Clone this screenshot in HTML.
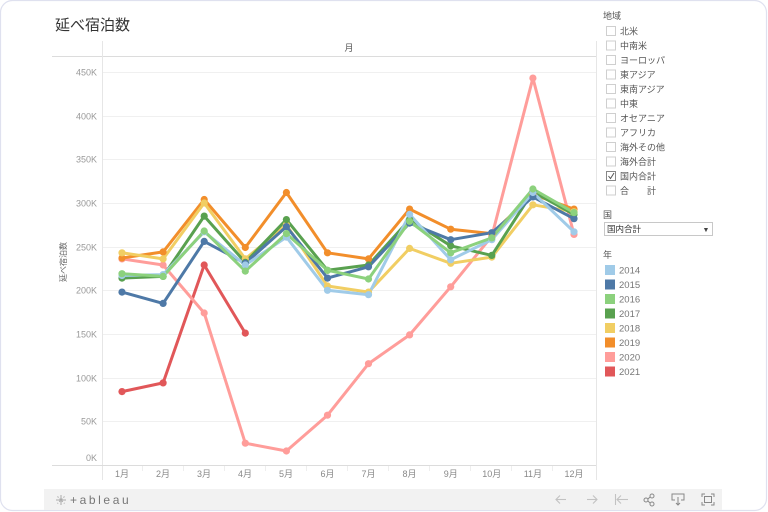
<!DOCTYPE html>
<html><head><meta charset="utf-8"><style>
html,body{margin:0;padding:0;background:#fff;width:768px;height:512px;overflow:hidden}
svg{display:block}
text{font-family:"Liberation Sans","Noto Sans CJK JP",sans-serif}
</style></head><body>
<svg width="768" height="512" viewBox="0 0 768 512" xmlns="http://www.w3.org/2000/svg">
<rect x="0.5" y="0.5" width="766" height="510" rx="12" ry="12" fill="#fff" stroke="#dfe1ef" stroke-width="1.2"/>
<text x="55" y="30" font-size="15" fill="#333">延べ宿泊数</text>
<!-- frame -->
<line x1="52" y1="56.5" x2="596" y2="56.5" stroke="#dcdcdc" stroke-width="1"/>
<line x1="102.5" y1="41" x2="102.5" y2="480" stroke="#e6e6e6" stroke-width="1"/>
<line x1="596.5" y1="41" x2="596.5" y2="480" stroke="#e6e6e6" stroke-width="1"/>
<text x="349" y="51" font-size="9" fill="#555" text-anchor="middle">月</text>
<!-- gridlines -->
<g stroke="#f0f0f0" stroke-width="1">
<line x1="103" y1="72.5" x2="596" y2="72.5"/>
<line x1="103" y1="116.5" x2="596" y2="116.5"/>
<line x1="103" y1="159.5" x2="596" y2="159.5"/>
<line x1="103" y1="203.5" x2="596" y2="203.5"/>
<line x1="103" y1="247.5" x2="596" y2="247.5"/>
<line x1="103" y1="290.5" x2="596" y2="290.5"/>
<line x1="103" y1="334.5" x2="596" y2="334.5"/>
<line x1="103" y1="378.5" x2="596" y2="378.5"/>
<line x1="103" y1="421.5" x2="596" y2="421.5"/>
</g>
<line x1="52" y1="465.5" x2="596" y2="465.5" stroke="#dcdcdc" stroke-width="1"/>
<g font-size="9" fill="#999" text-anchor="end">
<text x="97" y="75.5">450K</text>
<text x="97" y="119.5">400K</text>
<text x="97" y="162.5">350K</text>
<text x="97" y="206.5">300K</text>
<text x="97" y="250.5">250K</text>
<text x="97" y="293.5">200K</text>
<text x="97" y="337.5">150K</text>
<text x="97" y="381.5">100K</text>
<text x="97" y="424.5">50K</text>
<text x="97" y="461">0K</text>
</g>
<text x="0" y="0" font-size="8" fill="#666" text-anchor="middle" transform="translate(66,262) rotate(-90)">延べ宿泊数</text>
<!-- month ticks -->
<g stroke="#eeeeee" stroke-width="1">
<line x1="142.5" y1="466" x2="142.5" y2="471"/><line x1="183.5" y1="466" x2="183.5" y2="471"/>
<line x1="224.5" y1="466" x2="224.5" y2="471"/><line x1="265.5" y1="466" x2="265.5" y2="471"/>
<line x1="306.5" y1="466" x2="306.5" y2="471"/><line x1="347.5" y1="466" x2="347.5" y2="471"/>
<line x1="388.5" y1="466" x2="388.5" y2="471"/><line x1="429.5" y1="466" x2="429.5" y2="471"/>
<line x1="470.5" y1="466" x2="470.5" y2="471"/><line x1="511.5" y1="466" x2="511.5" y2="471"/>
<line x1="552.5" y1="466" x2="552.5" y2="471"/>
</g>
<g font-size="9" fill="#888" text-anchor="middle">
<text x="122" y="477">1月</text><text x="163" y="477">2月</text><text x="204" y="477">3月</text>
<text x="245" y="477">4月</text><text x="286" y="477">5月</text><text x="327.5" y="477">6月</text>
<text x="368.5" y="477">7月</text><text x="409.5" y="477">8月</text><text x="450.7" y="477">9月</text>
<text x="491.8" y="477">10月</text><text x="532.9" y="477">11月</text><text x="574" y="477">12月</text>
</g>
<!-- series -->
<g fill="none" stroke-width="3" stroke-linejoin="round" stroke-linecap="round">
<polyline stroke="#E15759" points="122,391.6 163.1,382.9 204.2,265 245.3,333.1"/>
<polyline stroke="#FF9D9A" points="122,258.9 163.1,265 204.2,313 245.3,443.2 286.4,451 327.5,415.2 368.5,363.7 409.6,334.9 450.7,286.8 491.8,236.2 532.9,78.1 574,234.4"/>
<polyline stroke="#F28E2B" points="122,258 163.1,251.9 204.2,199.5 245.3,247.5 286.4,192.5 327.5,252.8 368.5,258.9 409.6,209.1 450.7,229.2 491.8,233.6 532.9,194.3 574,209.1"/>
<polyline stroke="#F1CE63" points="122,252.8 163.1,258.9 204.2,203 245.3,258.9 286.4,224.8 327.5,286 368.5,292.1 409.6,248.4 450.7,263.3 491.8,257.1 532.9,204.8 574,211.7"/>
<polyline stroke="#59A14F" points="122,278.1 163.1,276.4 204.2,216.1 245.3,262.4 286.4,219.6 327.5,270.3 368.5,265 409.6,219.6 450.7,245.8 491.8,255.4 532.9,191.7 574,214.4"/>
<polyline stroke="#4E79A7" points="122,292.1 163.1,303.4 204.2,241.4 245.3,263.3 286.4,226.6 327.5,278.1 368.5,266.8 409.6,223.1 450.7,239.7 491.8,232.7 532.9,196.9 574,218.7"/>
<polyline stroke="#A0CBE8" points="122,275.5 163.1,274.6 204.2,231.8 245.3,265 286.4,237.1 327.5,290.3 368.5,294.7 409.6,214.4 450.7,259.8 491.8,239.7 532.9,192.5 574,231.8"/>
<polyline stroke="#8CD17D" points="122,273.7 163.1,276.4 204.2,231 245.3,271.1 286.4,233.6 327.5,270.3 368.5,279 409.6,221.3 450.7,252.8 491.8,237.9 532.9,189 574,212.6"/>
</g>
<g>
<g fill="#E15759"><circle cx="122" cy="391.6" r="3.6"/><circle cx="163.1" cy="382.9" r="3.6"/><circle cx="204.2" cy="265" r="3.6"/><circle cx="245.3" cy="333.1" r="3.6"/></g>
<g fill="#FF9D9A"><circle cx="122" cy="258.9" r="3.6"/><circle cx="163.1" cy="265" r="3.6"/><circle cx="204.2" cy="313" r="3.6"/><circle cx="245.3" cy="443.2" r="3.6"/><circle cx="286.4" cy="451" r="3.6"/><circle cx="327.5" cy="415.2" r="3.6"/><circle cx="368.5" cy="363.7" r="3.6"/><circle cx="409.6" cy="334.9" r="3.6"/><circle cx="450.7" cy="286.8" r="3.6"/><circle cx="491.8" cy="236.2" r="3.6"/><circle cx="532.9" cy="78.1" r="3.6"/><circle cx="574" cy="234.4" r="3.6"/></g>
<g fill="#F28E2B"><circle cx="122" cy="258" r="3.6"/><circle cx="163.1" cy="251.9" r="3.6"/><circle cx="204.2" cy="199.5" r="3.6"/><circle cx="245.3" cy="247.5" r="3.6"/><circle cx="286.4" cy="192.5" r="3.6"/><circle cx="327.5" cy="252.8" r="3.6"/><circle cx="368.5" cy="258.9" r="3.6"/><circle cx="409.6" cy="209.1" r="3.6"/><circle cx="450.7" cy="229.2" r="3.6"/><circle cx="491.8" cy="233.6" r="3.6"/><circle cx="532.9" cy="194.3" r="3.6"/><circle cx="574" cy="209.1" r="3.6"/></g>
<g fill="#F1CE63"><circle cx="122" cy="252.8" r="3.6"/><circle cx="163.1" cy="258.9" r="3.6"/><circle cx="204.2" cy="203" r="3.6"/><circle cx="245.3" cy="258.9" r="3.6"/><circle cx="286.4" cy="224.8" r="3.6"/><circle cx="327.5" cy="286" r="3.6"/><circle cx="368.5" cy="292.1" r="3.6"/><circle cx="409.6" cy="248.4" r="3.6"/><circle cx="450.7" cy="263.3" r="3.6"/><circle cx="491.8" cy="257.1" r="3.6"/><circle cx="532.9" cy="204.8" r="3.6"/><circle cx="574" cy="211.7" r="3.6"/></g>
<g fill="#59A14F"><circle cx="122" cy="278.1" r="3.6"/><circle cx="163.1" cy="276.4" r="3.6"/><circle cx="204.2" cy="216.1" r="3.6"/><circle cx="245.3" cy="262.4" r="3.6"/><circle cx="286.4" cy="219.6" r="3.6"/><circle cx="327.5" cy="270.3" r="3.6"/><circle cx="368.5" cy="265" r="3.6"/><circle cx="409.6" cy="219.6" r="3.6"/><circle cx="450.7" cy="245.8" r="3.6"/><circle cx="491.8" cy="255.4" r="3.6"/><circle cx="532.9" cy="191.7" r="3.6"/><circle cx="574" cy="214.4" r="3.6"/></g>
<g fill="#4E79A7"><circle cx="122" cy="292.1" r="3.6"/><circle cx="163.1" cy="303.4" r="3.6"/><circle cx="204.2" cy="241.4" r="3.6"/><circle cx="245.3" cy="263.3" r="3.6"/><circle cx="286.4" cy="226.6" r="3.6"/><circle cx="327.5" cy="278.1" r="3.6"/><circle cx="368.5" cy="266.8" r="3.6"/><circle cx="409.6" cy="223.1" r="3.6"/><circle cx="450.7" cy="239.7" r="3.6"/><circle cx="491.8" cy="232.7" r="3.6"/><circle cx="532.9" cy="196.9" r="3.6"/><circle cx="574" cy="218.7" r="3.6"/></g>
<g fill="#A0CBE8"><circle cx="122" cy="275.5" r="3.6"/><circle cx="163.1" cy="274.6" r="3.6"/><circle cx="204.2" cy="231.8" r="3.6"/><circle cx="245.3" cy="265" r="3.6"/><circle cx="286.4" cy="237.1" r="3.6"/><circle cx="327.5" cy="290.3" r="3.6"/><circle cx="368.5" cy="294.7" r="3.6"/><circle cx="409.6" cy="214.4" r="3.6"/><circle cx="450.7" cy="259.8" r="3.6"/><circle cx="491.8" cy="239.7" r="3.6"/><circle cx="532.9" cy="192.5" r="3.6"/><circle cx="574" cy="231.8" r="3.6"/></g>
<g fill="#8CD17D"><circle cx="122" cy="273.7" r="3.6"/><circle cx="163.1" cy="276.4" r="3.6"/><circle cx="204.2" cy="231" r="3.6"/><circle cx="245.3" cy="271.1" r="3.6"/><circle cx="286.4" cy="233.6" r="3.6"/><circle cx="327.5" cy="270.3" r="3.6"/><circle cx="368.5" cy="279" r="3.6"/><circle cx="409.6" cy="221.3" r="3.6"/><circle cx="450.7" cy="252.8" r="3.6"/><circle cx="491.8" cy="237.9" r="3.6"/><circle cx="532.9" cy="189" r="3.6"/><circle cx="574" cy="212.6" r="3.6"/></g>
</g>
<!-- filters -->
<text x="603" y="19" font-size="9" fill="#555">地域</text>
<g fill="#fff" stroke="#cfcfcf" stroke-width="1">
<rect x="606.5" y="26.5" width="9" height="9"/><rect x="606.5" y="41" width="9" height="9"/>
<rect x="606.5" y="55.5" width="9" height="9"/><rect x="606.5" y="70" width="9" height="9"/>
<rect x="606.5" y="84.5" width="9" height="9"/><rect x="606.5" y="99" width="9" height="9"/>
<rect x="606.5" y="113.5" width="9" height="9"/><rect x="606.5" y="128" width="9" height="9"/>
<rect x="606.5" y="142.5" width="9" height="9"/><rect x="606.5" y="157" width="9" height="9"/>
<rect x="606.5" y="171.5" width="9" height="9" stroke="#888"/><rect x="606.5" y="186" width="9" height="9"/>
</g>
<polyline points="608.5,176 610.5,178.5 614,173" fill="none" stroke="#555" stroke-width="1"/>
<g font-size="9" fill="#555">
<text x="620" y="34.5">北米</text><text x="620" y="49">中南米</text><text x="620" y="63.5">ヨーロッパ</text>
<text x="620" y="78">東アジア</text><text x="620" y="92.5">東南アジア</text><text x="620" y="107">中東</text>
<text x="620" y="121.5">オセアニア</text><text x="620" y="136">アフリカ</text><text x="620" y="150.5">海外その他</text>
<text x="620" y="165">海外合計</text><text x="620" y="179.5">国内合計</text><text x="620" y="194" xml:space="preserve">合　　計</text>
</g>
<text x="603" y="218" font-size="9" fill="#555">国</text>
<rect x="604.5" y="222.5" width="108" height="13" fill="#fff" stroke="#c8c8c8" stroke-width="1"/>
<text x="607" y="232" font-size="8.5" fill="#333">国内合計</text>
<text x="706" y="232" font-size="7" fill="#444" text-anchor="middle">▼</text>
<text x="603" y="258" font-size="9" fill="#555">年</text>
<g>
<rect x="605" y="265" width="10" height="10" fill="#A0CBE8"/>
<rect x="605" y="279.5" width="10" height="10" fill="#4E79A7"/>
<rect x="605" y="294" width="10" height="10" fill="#8CD17D"/>
<rect x="605" y="308.5" width="10" height="10" fill="#59A14F"/>
<rect x="605" y="323" width="10" height="10" fill="#F1CE63"/>
<rect x="605" y="337.5" width="10" height="10" fill="#F28E2B"/>
<rect x="605" y="352" width="10" height="10" fill="#FF9D9A"/>
<rect x="605" y="366.5" width="10" height="10" fill="#E15759"/>
</g>
<g font-size="9.5" fill="#777">
<text x="619" y="273.5">2014</text><text x="619" y="288">2015</text><text x="619" y="302.5">2016</text>
<text x="619" y="317">2017</text><text x="619" y="331.5">2018</text><text x="619" y="346">2019</text>
<text x="619" y="360.5">2020</text><text x="619" y="375">2021</text>
</g>
<!-- footer -->
<rect x="44" y="489" width="678" height="21" fill="#f2f2f2"/>
<g stroke="#aaa" stroke-width="1" fill="none">
<line x1="61" y1="495" x2="61" y2="505"/><line x1="56" y1="500" x2="66" y2="500"/>
<line x1="57.5" y1="496.5" x2="64.5" y2="503.5" stroke-dasharray="1.5 1.5"/><line x1="64.5" y1="496.5" x2="57.5" y2="503.5" stroke-dasharray="1.5 1.5"/>
</g>
<text x="70" y="504" font-size="12" fill="#777" letter-spacing="2.6">+ableau</text>
<g stroke="#c2c2c2" stroke-width="1.1" fill="none">
<line x1="556" y1="499.5" x2="566" y2="499.5"/><polyline points="560,495.5 556,499.5 560,503.5"/>
<line x1="587" y1="499.5" x2="597" y2="499.5"/><polyline points="593,495.5 597,499.5 593,503.5"/>
<line x1="615.5" y1="494" x2="615.5" y2="505"/><line x1="617" y1="499.5" x2="628" y2="499.5"/><polyline points="621,495.5 617,499.5 621,503.5"/>
</g>
<g stroke="#888" stroke-width="1" fill="none">
<circle cx="646" cy="500" r="2"/><circle cx="652" cy="496" r="2"/><circle cx="652" cy="504" r="2"/>
<line x1="648" y1="499" x2="650" y2="497"/><line x1="648" y1="501" x2="650" y2="503"/>
<polyline points="675,500 672,500 672,494 684,494 684,500 681,500"/><line x1="678" y1="497" x2="678" y2="505"/><polyline points="676,503 678,505 680,503"/>
<polyline points="702,497 702,494 705,494"/><polyline points="711,494 714,494 714,497"/><polyline points="702,502 702,505 705,505"/><polyline points="711,505 714,505 714,502"/>
<rect x="704.5" y="496.5" width="7" height="6"/>
</g>
</svg>
</body></html>
